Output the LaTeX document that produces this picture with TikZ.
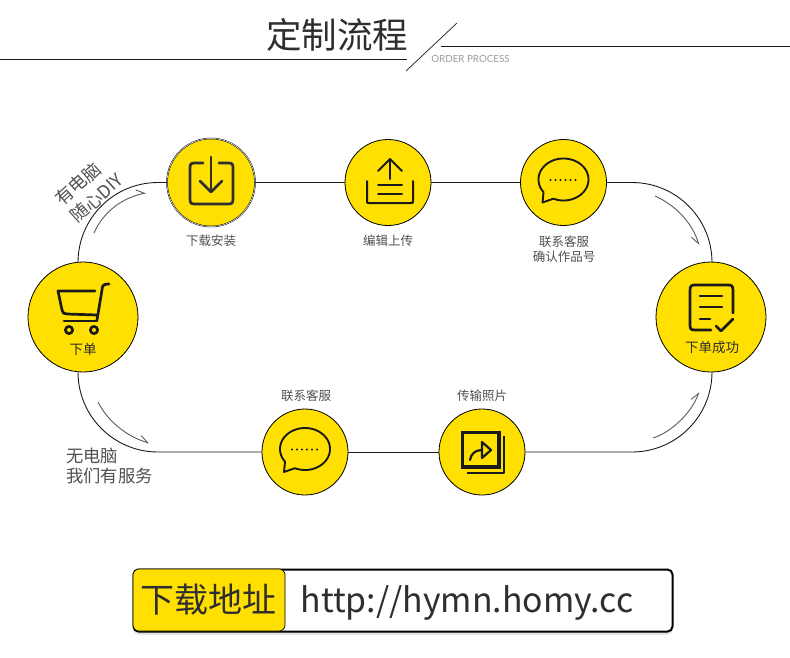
\documentclass[tikz,border=0pt]{standalone}
\usepackage{fontspec}
\setmainfont{Noto Sans CJK SC}
\newfontfamily\latfont{Lato}
\usepackage{xcolor}
\usetikzlibrary{arrows.meta,shadows}
\definecolor{y1}{HTML}{FFE000}
\definecolor{k1}{HTML}{1A1A1A}
\definecolor{k2}{HTML}{2E2E2E}
\definecolor{g1}{HTML}{505050}
\definecolor{g2}{HTML}{5A5A5A}
\definecolor{g3}{HTML}{9A9A9A}
\tikzset{
	disc/.style = {circle,draw = black,fill = y1,inner sep = 0pt,line width = 0.8pt},
	flowline/.style = {line width = 0.9pt,draw = k1},
	hint/.style = {line width = 0.9pt,draw = g2},
	icon/.style = {line width = 2.7pt,draw = k1,line cap = round,line join = round},
	caption/.style = {font = \fontsize{12.5}{15}\selectfont,text = g1,inner sep = 0pt,align = center},
	inlabel/.style = {font = \fontsize{13.5}{16}\selectfont,text = k2,inner sep = 0pt},
	side/.style = {font = \fontsize{17.3}{20}\selectfont,text = g1,inner sep = 0pt,align = left}
}
\begin{document}
\begin{tikzpicture}[x = 1pt,y = -1pt]
	\useasboundingbox (0,0) rectangle (790,657);
	% heading
	\node [inner sep = 0pt,text = k2,font = \fontsize{35.5}{40}\selectfont] (heading) at (337,35) {定制流程};
	\node [inner sep = 0pt,text = g3,font = \latfont\fontsize{9.8}{12}\selectfont] (headingen) at (470.5,59) {ORDER PROCESS};
	\draw [flowline] (0,59.5) -- (407,59.5);
	\draw [flowline] (441,46.5) -- (790,46.5);
	\draw [line width = 0.7pt,k1] (406,71) -- (457,23);
	% discs
	\node [disc,minimum size = 110pt] (order) at (83,317) {};
	\node [disc,minimum size = 88pt,line width = 0.5pt,double = white,double distance = 0.5pt] (download) at (211,182.5) {};
	\node [disc,minimum size = 86pt] (upload) at (388,182.5) {};
	\node [disc,minimum size = 86pt] (chatA) at (563.5,182.5) {};
	\node [disc,minimum size = 110pt] (success) at (711,317) {};
	\node [disc,minimum size = 86pt] (chatB) at (305,452) {};
	\node [disc,minimum size = 86pt] (photo) at (482,452) {};
	% track
	\coordinate (footTL) at (78,262.5);
	\coordinate (footBL) at (78,372);
	\coordinate (footTR) at (712,262);
	\coordinate (footBR) at (712,372);
	\draw [flowline,rounded corners = 80pt] (footTL) |- (download);
	\draw [flowline] (download) -- (upload);
	\draw [flowline] (upload) -- (chatA);
	\draw [flowline,rounded corners = 80pt] (chatA) -| (footTR);
	\draw [flowline,rounded corners = 80pt] (footBL) |- (chatB);
	\draw [flowline] (chatB) -- (photo);
	\draw [flowline,rounded corners = 80pt] (photo) -| (footBR);
	% small arrows
	\coordinate (hintAa) at (94,233);
	\coordinate (hintAb) at (146,193);
	\coordinate (hintBa) at (655,196);
	\coordinate (hintBb) at (699,245);
	\coordinate (hintCa) at (653,438);
	\coordinate (hintCb) at (699,392);
	\coordinate (hintDa) at (98,402);
	\coordinate (hintDb) at (149,443);
	\draw [hint,-{Straight Barb[left,length = 8pt,width = 10pt]}] (hintAa) .. controls (104,210) and (125,197) .. (hintAb);
	\draw [hint,-{Straight Barb[right,length = 8pt,width = 10pt]}] (hintBa) .. controls (675,205) and (692,222) .. (hintBb);
	\draw [hint,-{Straight Barb[left,length = 8pt,width = 10pt]}] (hintCa) .. controls (672,432) and (692,412) .. (hintCb);
	\draw [hint,-{Straight Barb[left,length = 8pt,width = 10pt]}] (hintDa) .. controls (108,422) and (128,437) .. (hintDb);
	% cart
	\draw [icon] (109,284) .. controls (104,284) and (102,285) .. (102,290) -- (97,320);
	\draw [icon] (95,291) -- (58,291) -- (62,310) .. controls (62.5,313) and (64,314) .. (67,314) -- (97,315);
	\draw [icon] (64,321) -- (97,321);
	\draw [icon] (69,330) circle (3.6);
	\draw [icon] (94,330) circle (3.6);
	\node [inlabel] (orderlabel) at (83,349) {下单};
	% download
	\draw [icon,k2] (203,163) -- (195,163) .. controls (191,163) and (190,164) .. (190,168) -- (190,199) .. controls (190,203) and (191,204) .. (195,204) -- (228,204) .. controls (232,204) and (233,203) .. (233,199) -- (233,168) .. controls (233,164) and (232,163) .. (228,163) -- (219,163);
	\draw [icon,k2] (211,157) -- (211,192);
	\draw [icon,k2] (200,181) -- (211,192) -- (222,181);
	% upload
	\draw [icon,line width = 2pt] (390,179) -- (390,159);
	\draw [icon,line width = 2pt] (378,171) -- (390,159) -- (402,171);
	\draw [icon,line width = 2pt] (367,181) -- (367,201) .. controls (367,203) and (367,203) .. (369,203) -- (411,203) .. controls (413,203) and (413,203) .. (413,201) -- (413,181);
	\draw [icon,line width = 2pt] (378,185) -- (402,185);
	\draw [icon,line width = 2pt] (378,194) -- (402,194);
	% chat, the same in both discs
	\foreach \bubble in {chatA,chatB}{
		\begin{scope}[shift = {(\bubble)},yshift = 3pt]
			\draw [icon,line width = 1.9pt] plot [domain = 114:-217,samples = 60,smooth] ({25*cos(\x)},{21*sin(\x)}) -- (-21,23) -- cycle;
			\foreach \dotx in {-14,-9,-4,1,6,11}
				\fill [k1] (\dotx+1,0.5) circle (1.1);
		\end{scope}
	}
	% success
	\draw [icon] (733,313) -- (733,291) .. controls (733,286) and (732,285) .. (728,285) -- (695,285) .. controls (691,285) and (690,286) .. (690,291) -- (690,325) .. controls (690,329) and (691,330) .. (695,330) -- (711,330);
	\draw [icon] (700,296) -- (722,296);
	\draw [icon] (700,307) -- (722,307);
	\draw [icon] (700,319) -- (710,319);
	\draw [icon] (716,326) -- (721,331) -- (733,319);
	\node [inlabel] (successlabel) at (712,347) {下单成功};
	% photo
	\draw [line width = 3.6pt,k1] (462.5,432.5) rectangle (499,467);
	\draw [icon,line width = 2pt,line cap = butt] (467,473) -- (504,473) -- (504,436);
	\draw [icon,line width = 2.2pt] (482,442) -- (491,450) -- (482,458) -- cycle;
	\draw [icon,line width = 2.2pt] (470,460) .. controls (471,454) and (475,450) .. (482,450);
	% captions
	\node [caption] (downloadcap) at (211,241) {下载安装};
	\node [caption] (uploadcap) at (388,241) {编辑上传};
	\node [caption] (chatAcap) at (564,249) {联系客服\\确认作品号};
	\node [caption] (chatBcap) at (306,396) {联系客服};
	\node [caption] (photocap) at (482,396) {传输照片};
	\node [side,rotate = 42,font = \fontsize{17.8}{23}\selectfont] (sideA) at (89,189.5) {有电脑\\随心DIY};
	\node [side,anchor = west] (sideB) at (66,466) {无电脑\\我们有服务};
	% address bar
	\node [draw = black,line width = 2pt,fill = white,rounded corners = 5pt,minimum width = 539pt,minimum height = 62pt,inner sep = 0pt,drop shadow = {shadow xshift = 0pt,shadow yshift = -3pt,opacity = 0.25}] (bar) at (403,600.5) {};
	\node [draw = black,line width = 0.7pt,fill = y1,rounded corners = 6pt,minimum width = 152pt,minimum height = 62pt,inner sep = 0pt] (barhead) at (209,600) {};
	\node [inner sep = 0pt,text = k2,font = \fontsize{34}{38}\selectfont] (barheadtext) at (208,600) {下载地址};
	\node [inner sep = 0pt,text = k2,font = \fontsize{33.8}{38}\selectfont] (url) at (467,603) {http://hymn.homy.cc};
\end{tikzpicture}
\end{document}
